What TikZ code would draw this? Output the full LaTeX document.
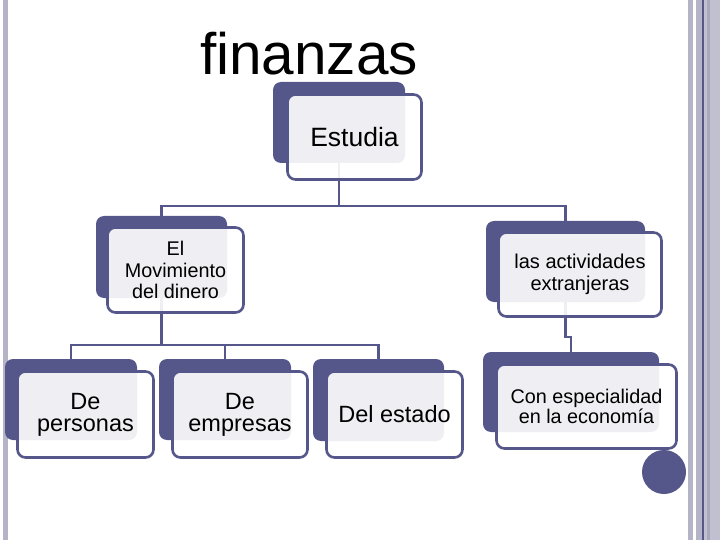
\documentclass[tikz,border=0pt]{standalone}
\usepackage{fontspec}
\setmainfont{Liberation Sans}
\definecolor{dk}{RGB}{85,87,139}
\definecolor{gb}{RGB}{180,180,198}
\definecolor{gb2}{RGB}{192,192,208}
\definecolor{gb3}{RGB}{168,168,188}
\begin{document}
\begin{tikzpicture}[x=1pt,y=-1pt,
  darkbox/.style={fill=dk, draw=none, rounded corners=8pt, inner sep=0pt},
  frontbox/.style={fill=white, fill opacity=0.9, text opacity=1, draw=dk, line width=2.6pt, rounded corners=8pt, inner sep=0pt, align=center, text=black},
  conn/.style={draw=dk, line width=2.8pt}
]
\useasboundingbox (0,0) rectangle (720,540);
% side bands
\fill[gb] (3,0) rectangle (7.5,540);
\fill[gb] (688,0) rectangle (692.5,540);
\fill[gb] (696,0) rectangle (702,540);
\fill[dk] (702,0) rectangle (703.5,540);
\fill[gb2] (703.5,0) rectangle (707,540);
\fill[gb3] (707,0) rectangle (710,540);
\fill[gb2] (710,0) rectangle (720,540);
% title
\node[anchor=base, inner sep=0pt, font=\fontsize{58.5}{58.5}\selectfont] (title) at (309,75) {finanzas};
% dark boxes
\node[darkbox, minimum width=132pt, minimum height=81pt] (estD) at (339,122.5) {};
\node[darkbox, minimum width=131pt, minimum height=82pt] (movD) at (161.5,257) {};
\node[darkbox, minimum width=159pt, minimum height=81pt] (actD) at (565.5,261.5) {};
\node[darkbox, minimum width=132pt, minimum height=81pt] (perD) at (71,399.5) {};
\node[darkbox, minimum width=132pt, minimum height=81pt] (empD) at (225,399.5) {};
\node[darkbox, minimum width=131pt, minimum height=82pt] (staD) at (378.5,400) {};
\node[darkbox, minimum width=176pt, minimum height=80pt] (conD) at (571,392) {};
% connectors
\coordinate (j1) at (339,206);
\coordinate (j2) at (161.5,345);
\coordinate (j3) at (565.5,337);
\draw[conn] (estD.south) -- (j1);
\draw[conn] (j1) -| (movD.north);
\draw[conn] (j1) -| (actD.north);
\draw[conn] (movD.south) -- (j2);
\draw[conn] (j2) -| (perD.north);
\draw[conn] (j2) -| (empD.north);
\draw[conn] (j2) -| (staD.north);
\draw[conn] (actD.south) -- (j3) -| (conD.north);
% front boxes
\node[frontbox, minimum width=134pt, minimum height=85pt, font=\fontsize{26.5}{28}\selectfont] (est) at (354.5,137) {Estudia};
\node[frontbox, minimum width=136pt, minimum height=85pt, font=\fontsize{19.8}{21.5}\selectfont] (mov) at (175.5,270) {El\\Movimiento\\del dinero};
\node[frontbox, minimum width=163pt, minimum height=84pt, font=\fontsize{20}{22}\selectfont] (act) at (580,274.5) {las actividades\\extranjeras};
\node[frontbox, minimum width=136pt, minimum height=86pt, font=\fontsize{23.5}{22}\selectfont] (per) at (85.5,414.5) {De\\personas};
\node[frontbox, minimum width=135pt, minimum height=86pt, font=\fontsize{23.5}{22}\selectfont] (emp) at (240,414.5) {De\\empresas};
\node[frontbox, minimum width=136pt, minimum height=86pt, font=\fontsize{23.5}{23}\selectfont] (sta) at (394.5,414.5) {Del estado};
\node[frontbox, minimum width=180pt, minimum height=84pt, font=\fontsize{19.8}{20.5}\selectfont] (con) at (586.5,406.5) {Con especialidad\\en la economía};
% circle
\node[circle, fill=dk, minimum size=44pt, inner sep=0pt] (dot) at (664,472) {};
\end{tikzpicture}
\end{document}
